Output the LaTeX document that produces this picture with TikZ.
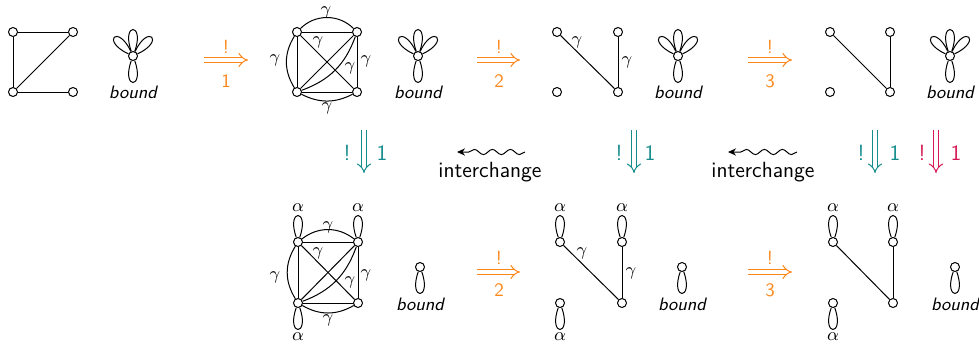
\documentclass[tikz,border=0pt]{standalone}
\usetikzlibrary{arrows.meta,decorations.pathmorphing}
\definecolor{orC}{RGB}{252,135,25}
\definecolor{tealC}{RGB}{20,140,140}
\definecolor{redC}{RGB}{215,25,85}
\begin{document}
\begin{tikzpicture}[x=0.5pt,y=0.5pt,
  vtx/.style={circle,draw,fill=white,inner sep=0pt,minimum size=4.5pt,line width=0.5pt},
  edg/.style={line width=0.5pt},
  lp/.style={line width=0.5pt,min distance=15.5pt,max distance=15.5pt},
  lbl/.style={font=\fontsize{9}{10}\selectfont\sffamily\itshape,anchor=base,inner sep=0pt},
  gm/.style={font=\fontsize{9}{10}\selectfont,inner sep=0pt},
  arl/.style={font=\fontsize{9.5}{11}\selectfont\sffamily,inner sep=0pt},
  arm/.style={font=\fontsize{11}{13}\selectfont\sffamily,inner sep=0pt},
  itx/.style={font=\fontsize{11}{13}\selectfont\sffamily,anchor=base,inner sep=0pt},
  dbl/.style={double,double distance=2pt,line width=0.5pt,-{Implies}},
  wav/.style={-{Stealth[length=4pt,width=3.6pt]},line width=0.5pt,decorate,
    decoration={snake,amplitude=1.3pt,segment length=9pt,post length=5pt}},
]
\useasboundingbox (0,0) rectangle (979,344);

% ---------- top row: graph 1 ----------
\node[vtx] (a1) at (13,312) {};
\node[vtx] (b1) at (73,312) {};
\node[vtx] (c1) at (13,252) {};
\node[vtx] (d1) at (73,252) {};
\draw[edg] (a1) -- (b1);
\draw[edg] (a1) -- (c1);
\draw[edg] (b1) -- (c1);
\draw[edg] (c1) -- (d1);
\node[vtx] (f1) at (133,288) {};
\draw[lp] (f1) to[out=110,in=70] (f1);
\draw[lp] (f1) to[out=155,in=115] (f1);
\draw[lp] (f1) to[out=65,in=25] (f1);
\draw[lp] (f1) to[out=290,in=250] (f1);
\node[lbl] (t1) at (133,246) {bound};

% arrow 1
\coordinate (p1s) at (204,284); \coordinate (p1e) at (248,284);
\draw[dbl,orC] (p1s) -- (p1e);
\node[arl,text=orC] (p1x) at (226,297) {!};
\node[arl,text=orC] (p1n) at (226,263) {1};

% ---------- top row: K4 ----------
\node[vtx] (a2) at (297,312) {};
\node[vtx] (b2) at (357,312) {};
\node[vtx] (c2) at (297,252) {};
\node[vtx] (d2) at (357,252) {};
\draw[edg] (a2) -- (b2);
\draw[edg] (a2) to[bend left=45] (b2);
\draw[edg] (a2) -- (c2);
\draw[edg] (c2) to[bend left=32] (a2);
\draw[edg] (c2) -- (d2);
\draw[edg] (c2) to[bend right=27] (d2);
\draw[edg] (b2) -- (d2);
\draw[edg] (a2) -- (d2);
\draw[edg] (c2) -- (b2);
\draw[edg] (c2) to[bend right=25] (b2);
\node[gm] (g21) at (326,332) {$\gamma$};
\node[gm] (g22) at (275,284) {$\gamma$};
\node[gm] (g23) at (318,302) {$\gamma$};
\node[gm] (g24) at (350,276) {$\gamma$};
\node[gm] (g25) at (366,283) {$\gamma$};
\node[gm] (g26) at (327,236) {$\gamma$};
\node[vtx] (f2) at (418,288) {};
\draw[lp] (f2) to[out=110,in=70] (f2);
\draw[lp] (f2) to[out=155,in=115] (f2);
\draw[lp] (f2) to[out=65,in=25] (f2);
\draw[lp] (f2) to[out=290,in=250] (f2);
\node[lbl] (t2) at (418,246) {bound};

% arrow 2
\coordinate (p2s) at (477,284); \coordinate (p2e) at (520,284);
\draw[dbl,orC] (p2s) -- (p2e);
\node[arl,text=orC] (p2x) at (499,297) {!};
\node[arl,text=orC] (p2n) at (499,263) {2};

% ---------- top row: graph 3 ----------
\node[vtx] (a3) at (557,312) {};
\node[vtx] (b3) at (618,312) {};
\node[vtx] (c3) at (557,252) {};
\node[vtx] (d3) at (618,252) {};
\draw[edg] (a3) -- (d3);
\draw[edg] (b3) -- (d3);
\node[gm] (g31) at (577,302) {$\gamma$};
\node[gm] (g32) at (627,282) {$\gamma$};
\node[vtx] (f3) at (678,288) {};
\draw[lp] (f3) to[out=110,in=70] (f3);
\draw[lp] (f3) to[out=155,in=115] (f3);
\draw[lp] (f3) to[out=65,in=25] (f3);
\draw[lp] (f3) to[out=290,in=250] (f3);
\node[lbl] (t3) at (678,246) {bound};

% arrow 3
\coordinate (p3s) at (748,284); \coordinate (p3e) at (792,284);
\draw[dbl,orC] (p3s) -- (p3e);
\node[arl,text=orC] (p3x) at (770,297) {!};
\node[arl,text=orC] (p3n) at (770,263) {3};

% ---------- top row: graph 4 ----------
\node[vtx] (a4) at (830,312) {};
\node[vtx] (b4) at (890,312) {};
\node[vtx] (c4) at (830,252) {};
\node[vtx] (d4) at (890,252) {};
\draw[edg] (a4) -- (d4);
\draw[edg] (b4) -- (d4);
\node[vtx] (f4) at (950,288) {};
\draw[lp] (f4) to[out=110,in=70] (f4);
\draw[lp] (f4) to[out=155,in=115] (f4);
\draw[lp] (f4) to[out=65,in=25] (f4);
\draw[lp] (f4) to[out=290,in=250] (f4);
\node[lbl] (t4) at (950,246) {bound};

% ---------- middle row ----------
\coordinate (v1s) at (364,214); \coordinate (v1e) at (364,171);
\draw[dbl,tealC] (v1s) -- (v1e);
\node[arm,text=tealC] (v1x) at (347,191) {!};
\node[arm,text=tealC] (v1n) at (382,191) {1};

\coordinate (w1s) at (525,192); \coordinate (w1e) at (457,192);
\draw[wav] (w1s) -- (w1e);
\node[itx] (i1) at (490,167) {interchange};

\coordinate (v2s) at (634,214); \coordinate (v2e) at (634,171);
\draw[dbl,tealC] (v2s) -- (v2e);
\node[arm,text=tealC] (v2x) at (619,191) {!};
\node[arm,text=tealC] (v2n) at (650,191) {1};

\coordinate (w2s) at (797,192); \coordinate (w2e) at (728,192);
\draw[wav] (w2s) -- (w2e);
\node[itx] (i2) at (763,167) {interchange};

\coordinate (v3s) at (875,214); \coordinate (v3e) at (875,171);
\draw[dbl,tealC] (v3s) -- (v3e);
\node[arm,text=tealC] (v3x) at (861,191) {!};
\node[arm,text=tealC] (v3n) at (895,191) {1};

\coordinate (v4s) at (936,214); \coordinate (v4e) at (936,171);
\draw[dbl,redC] (v4s) -- (v4e);
\node[arm,text=redC] (v4x) at (922,191) {!};
\node[arm,text=redC] (v4n) at (956,191) {1};

% ---------- bottom row: K4 with loops ----------
\node[vtx] (a5) at (298,102) {};
\node[vtx] (b5) at (358,102) {};
\node[vtx] (c5) at (298,41) {};
\node[vtx] (d5) at (358,41) {};
\draw[edg] (a5) -- (b5);
\draw[edg] (a5) to[bend left=38] (b5);
\draw[edg] (a5) -- (c5);
\draw[edg] (c5) to[bend left=32] (a5);
\draw[edg] (c5) -- (d5);
\draw[edg] (c5) to[bend right=30] (d5);
\draw[edg] (b5) -- (d5);
\draw[edg] (a5) -- (d5);
\draw[edg] (c5) -- (b5);
\draw[edg] (c5) to[bend right=25] (b5);
\draw[lp] (a5) to[out=110,in=70] (a5);
\draw[lp] (b5) to[out=110,in=70] (b5);
\draw[lp] (c5) to[out=290,in=250] (c5);
\node[gm] (al51) at (298,136) {$\alpha$};
\node[gm] (al52) at (358,136) {$\alpha$};
\node[gm] (al53) at (298,7) {$\alpha$};
\node[gm] (g51) at (328,117) {$\gamma$};
\node[gm] (g52) at (275,67) {$\gamma$};
\node[gm] (g53) at (318,91) {$\gamma$};
\node[gm] (g54) at (350,62) {$\gamma$};
\node[gm] (g55) at (366,69) {$\gamma$};
\node[gm] (g56) at (328,24) {$\gamma$};
\node[vtx] (f5) at (420,77) {};
\draw[lp] (f5) to[out=290,in=250] (f5);
\node[lbl] (t5) at (420,34) {bound};

% arrow 2 bottom
\coordinate (q2s) at (477,72); \coordinate (q2e) at (520,72);
\draw[dbl,orC] (q2s) -- (q2e);
\node[arl,text=orC] (q2x) at (499,86) {!};
\node[arl,text=orC] (q2n) at (499,54) {2};

% ---------- bottom row: graph 3 ----------
\node[vtx] (a6) at (560,102) {};
\node[vtx] (b6) at (622,102) {};
\node[vtx] (c6) at (560,41) {};
\node[vtx] (d6) at (622,41) {};
\draw[edg] (a6) -- (d6);
\draw[edg] (b6) -- (d6);
\draw[lp] (a6) to[out=110,in=70] (a6);
\draw[lp] (b6) to[out=110,in=70] (b6);
\draw[lp] (c6) to[out=290,in=250] (c6);
\node[gm] (al61) at (560,136) {$\alpha$};
\node[gm] (al62) at (622,136) {$\alpha$};
\node[gm] (al63) at (560,7) {$\alpha$};
\node[gm] (g61) at (582,91) {$\gamma$};
\node[gm] (g62) at (631,71) {$\gamma$};
\node[vtx] (f6) at (682,77) {};
\draw[lp] (f6) to[out=290,in=250] (f6);
\node[lbl] (t6) at (682,34) {bound};

% arrow 3 bottom
\coordinate (q3s) at (748,72); \coordinate (q3e) at (792,72);
\draw[dbl,orC] (q3s) -- (q3e);
\node[arl,text=orC] (q3x) at (770,86) {!};
\node[arl,text=orC] (q3n) at (770,54) {3};

% ---------- bottom row: graph 4 ----------
\node[vtx] (a7) at (833,102) {};
\node[vtx] (b7) at (893,102) {};
\node[vtx] (c7) at (833,41) {};
\node[vtx] (d7) at (893,41) {};
\draw[edg] (a7) -- (d7);
\draw[edg] (b7) -- (d7);
\draw[lp] (a7) to[out=110,in=70] (a7);
\draw[lp] (b7) to[out=110,in=70] (b7);
\draw[lp] (c7) to[out=290,in=250] (c7);
\node[gm] (al71) at (833,136) {$\alpha$};
\node[gm] (al72) at (893,136) {$\alpha$};
\node[gm] (al73) at (833,7) {$\alpha$};
\node[vtx] (f7) at (955,77) {};
\draw[lp] (f7) to[out=290,in=250] (f7);
\node[lbl] (t7) at (955,34) {bound};
\end{tikzpicture}
\end{document}
